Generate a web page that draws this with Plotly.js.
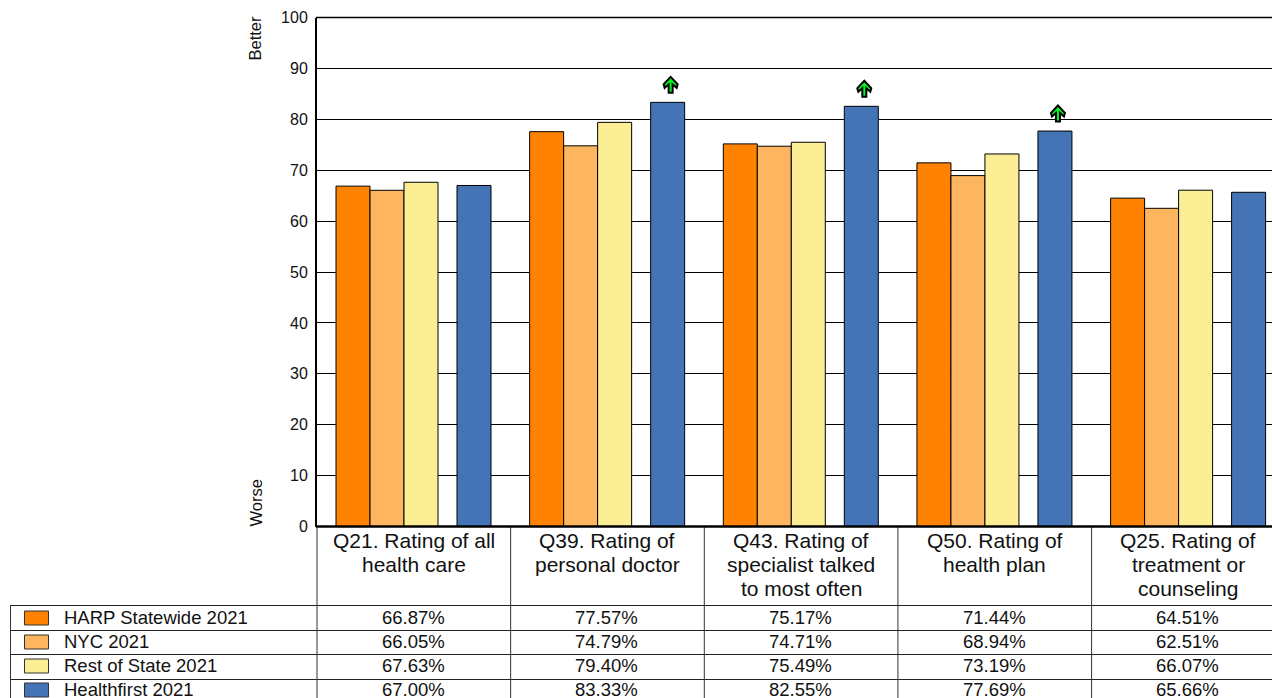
<!DOCTYPE html>
<html><head><meta charset="utf-8">
<script src="https://cdn.plot.ly/plotly-3.0.1.min.js"></script>
<style>html,body{margin:0;padding:0;background:#fff;overflow:hidden}#c{width:1272px;height:698px}</style>
</head><body><div id="c"></div>
<script>
const categories = ["Q21. Rating of all<br>health care","Q39. Rating of<br>personal doctor","Q43. Rating of<br>specialist talked<br>to most often","Q50. Rating of<br>health plan","Q25. Rating of<br>treatment or<br>counseling"];
const seriesNames = ["HARP Statewide 2021","NYC 2021","Rest of State 2021","Healthfirst 2021"];
const harpStatewide = [66.87,77.57,75.17,71.44,64.51];
const nyc = [66.05,74.79,74.71,68.94,62.51];
const restOfState = [67.63,79.40,75.49,73.19,66.07];
const healthfirst = [67.00,83.33,82.55,77.69,65.66];
const betterFlags = [false,true,true,true,false];
const yTicks = [0,10,20,30,40,50,60,70,80,90,100];
const colors = ["#FF8300","#FDB55F","#FCEE95","#4474B6"];
const W=1272,H=698,catW=193.65,barW=34;
const px=v=>v/W, py=v=>1-v/H;
const L=317,T=17.5,B=526.5;
const all=[harpStatewide,nyc,restOfState,healthfirst];
const slotStart=[19,53,87,140];
const traces=all.map((vals,i)=>({type:'bar',name:seriesNames[i],x:categories,y:vals,
  offset:-0.5+slotStart[i]/catW,width:barW/catW,
  marker:{color:colors[i],line:{color:'#000',width:1}},hoverinfo:'x+y',showlegend:false}));
const shapes=[],annotations=[];
const hl=(y,x0,c,w)=>shapes.push({type:'line',xref:'paper',yref:'paper',x0:px(x0),x1:1,y0:py(y),y1:py(y),line:{color:c||'#222',width:w||1},layer:'above'});
const vl=(x,y0,y1,c)=>shapes.push({type:'line',xref:'paper',yref:'paper',x0:px(x),x1:px(x),y0:py(y0),y1:py(y1),line:{color:c||'#333',width:1},layer:'above'});
const rowLines=[605,630,654,679], rowMid=[617,641,665,689.5], swatchTop=[611,635,659,683];
const catLineMid=[540.5,564.5,588.5];
rowLines.forEach(y=>hl(y+0.5,10));
vl(10.5,605,698);
for(let i=0;i<categories.length;i++){
  vl(L+i*catW,B,698);
  categories[i].split('<br>').forEach((line,k)=>annotations.push({xref:'x',yref:'paper',x:i,y:py(catLineMid[k]),yanchor:'middle',xanchor:'center',showarrow:false,
    text:line,font:{family:'Liberation Sans',size:21,color:'#111'}}));
  all.forEach((vals,r)=>annotations.push({xref:'x',yref:'paper',x:i-0.004,y:py(rowMid[r]),yanchor:'middle',xanchor:'center',showarrow:false,
    text:vals[i].toFixed(2)+'%',font:{family:'Liberation Sans',size:18.5,color:'#111'}}));
  if(betterFlags[i]){
    const cx=i-0.5+(slotStart[3]+barW/2+3)/catW;
    shapes.push({type:'path',xref:'x',yref:'y',xsizemode:'pixel',ysizemode:'pixel',xanchor:cx,yanchor:healthfirst[i],layer:'above',
      path:'M -2 9.5 L 2 9.5 L 2 18 L 6 14.5 L 7 18 L 0 25.5 L -7 18 L -6 14.5 L -2 18 Z',
      fillcolor:'#00F820',line:{color:'#000',width:2}});
  }
}
seriesNames.forEach((n,r)=>{
  shapes.push({type:'rect',xref:'paper',yref:'paper',x0:px(24.5),x1:px(48.5),y0:py(swatchTop[r]),y1:py(swatchTop[r]+14),
    fillcolor:colors[r],line:{color:'#333',width:1},layer:'above'});
  annotations.push({xref:'paper',yref:'paper',x:px(62),y:py(rowMid[r]),xanchor:'left',yanchor:'middle',showarrow:false,
    text:n,font:{family:'Liberation Sans',size:18.5,color:'#111'}});
});
annotations.push({xref:'paper',yref:'paper',x:px(255),y:py(14),xanchor:'center',yanchor:'top',textangle:-90,showarrow:false,text:'Better',font:{family:'Liberation Sans',size:16.5,color:'#111'}});
annotations.push({xref:'paper',yref:'paper',x:px(255),y:py(529),xanchor:'center',yanchor:'bottom',textangle:-90,showarrow:false,text:'Worse',font:{family:'Liberation Sans',size:16.5,color:'#111'}});
const layout={width:W,height:H,margin:{l:0,r:0,t:0,b:0,pad:0},paper_bgcolor:'#fff',plot_bgcolor:'#fff',
  barmode:'overlay',showlegend:false,
  xaxis:{type:'category',domain:[px(L),1],range:[-0.5,-0.5+(W-L)/catW],showticklabels:false,ticks:'',showgrid:false,zeroline:false,showline:false,fixedrange:true},
  yaxis:{domain:[py(B),py(T)],range:[0,100],tickvals:yTicks,ticktext:yTicks.map(String),ticks:'',ticklabelstandoff:4,
    tickfont:{family:'Liberation Sans',size:16,color:'#111'},showgrid:true,gridcolor:'#000',gridwidth:1,zeroline:false,showline:true,linecolor:'#000',linewidth:2,fixedrange:true},
  shapes:shapes.concat([
    {type:'line',xref:'paper',yref:'paper',x0:px(L-1),x1:1,y0:py(B),y1:py(B),line:{color:'#000',width:2.5},layer:'above'},
    {type:'line',xref:'paper',yref:'paper',x0:px(L-1),x1:1,y0:py(T),y1:py(T),line:{color:'#000',width:1.5},layer:'above'}]),
  annotations};
Plotly.newPlot('c',traces,layout,{displayModeBar:false,staticPlot:true});
</script></body></html>
